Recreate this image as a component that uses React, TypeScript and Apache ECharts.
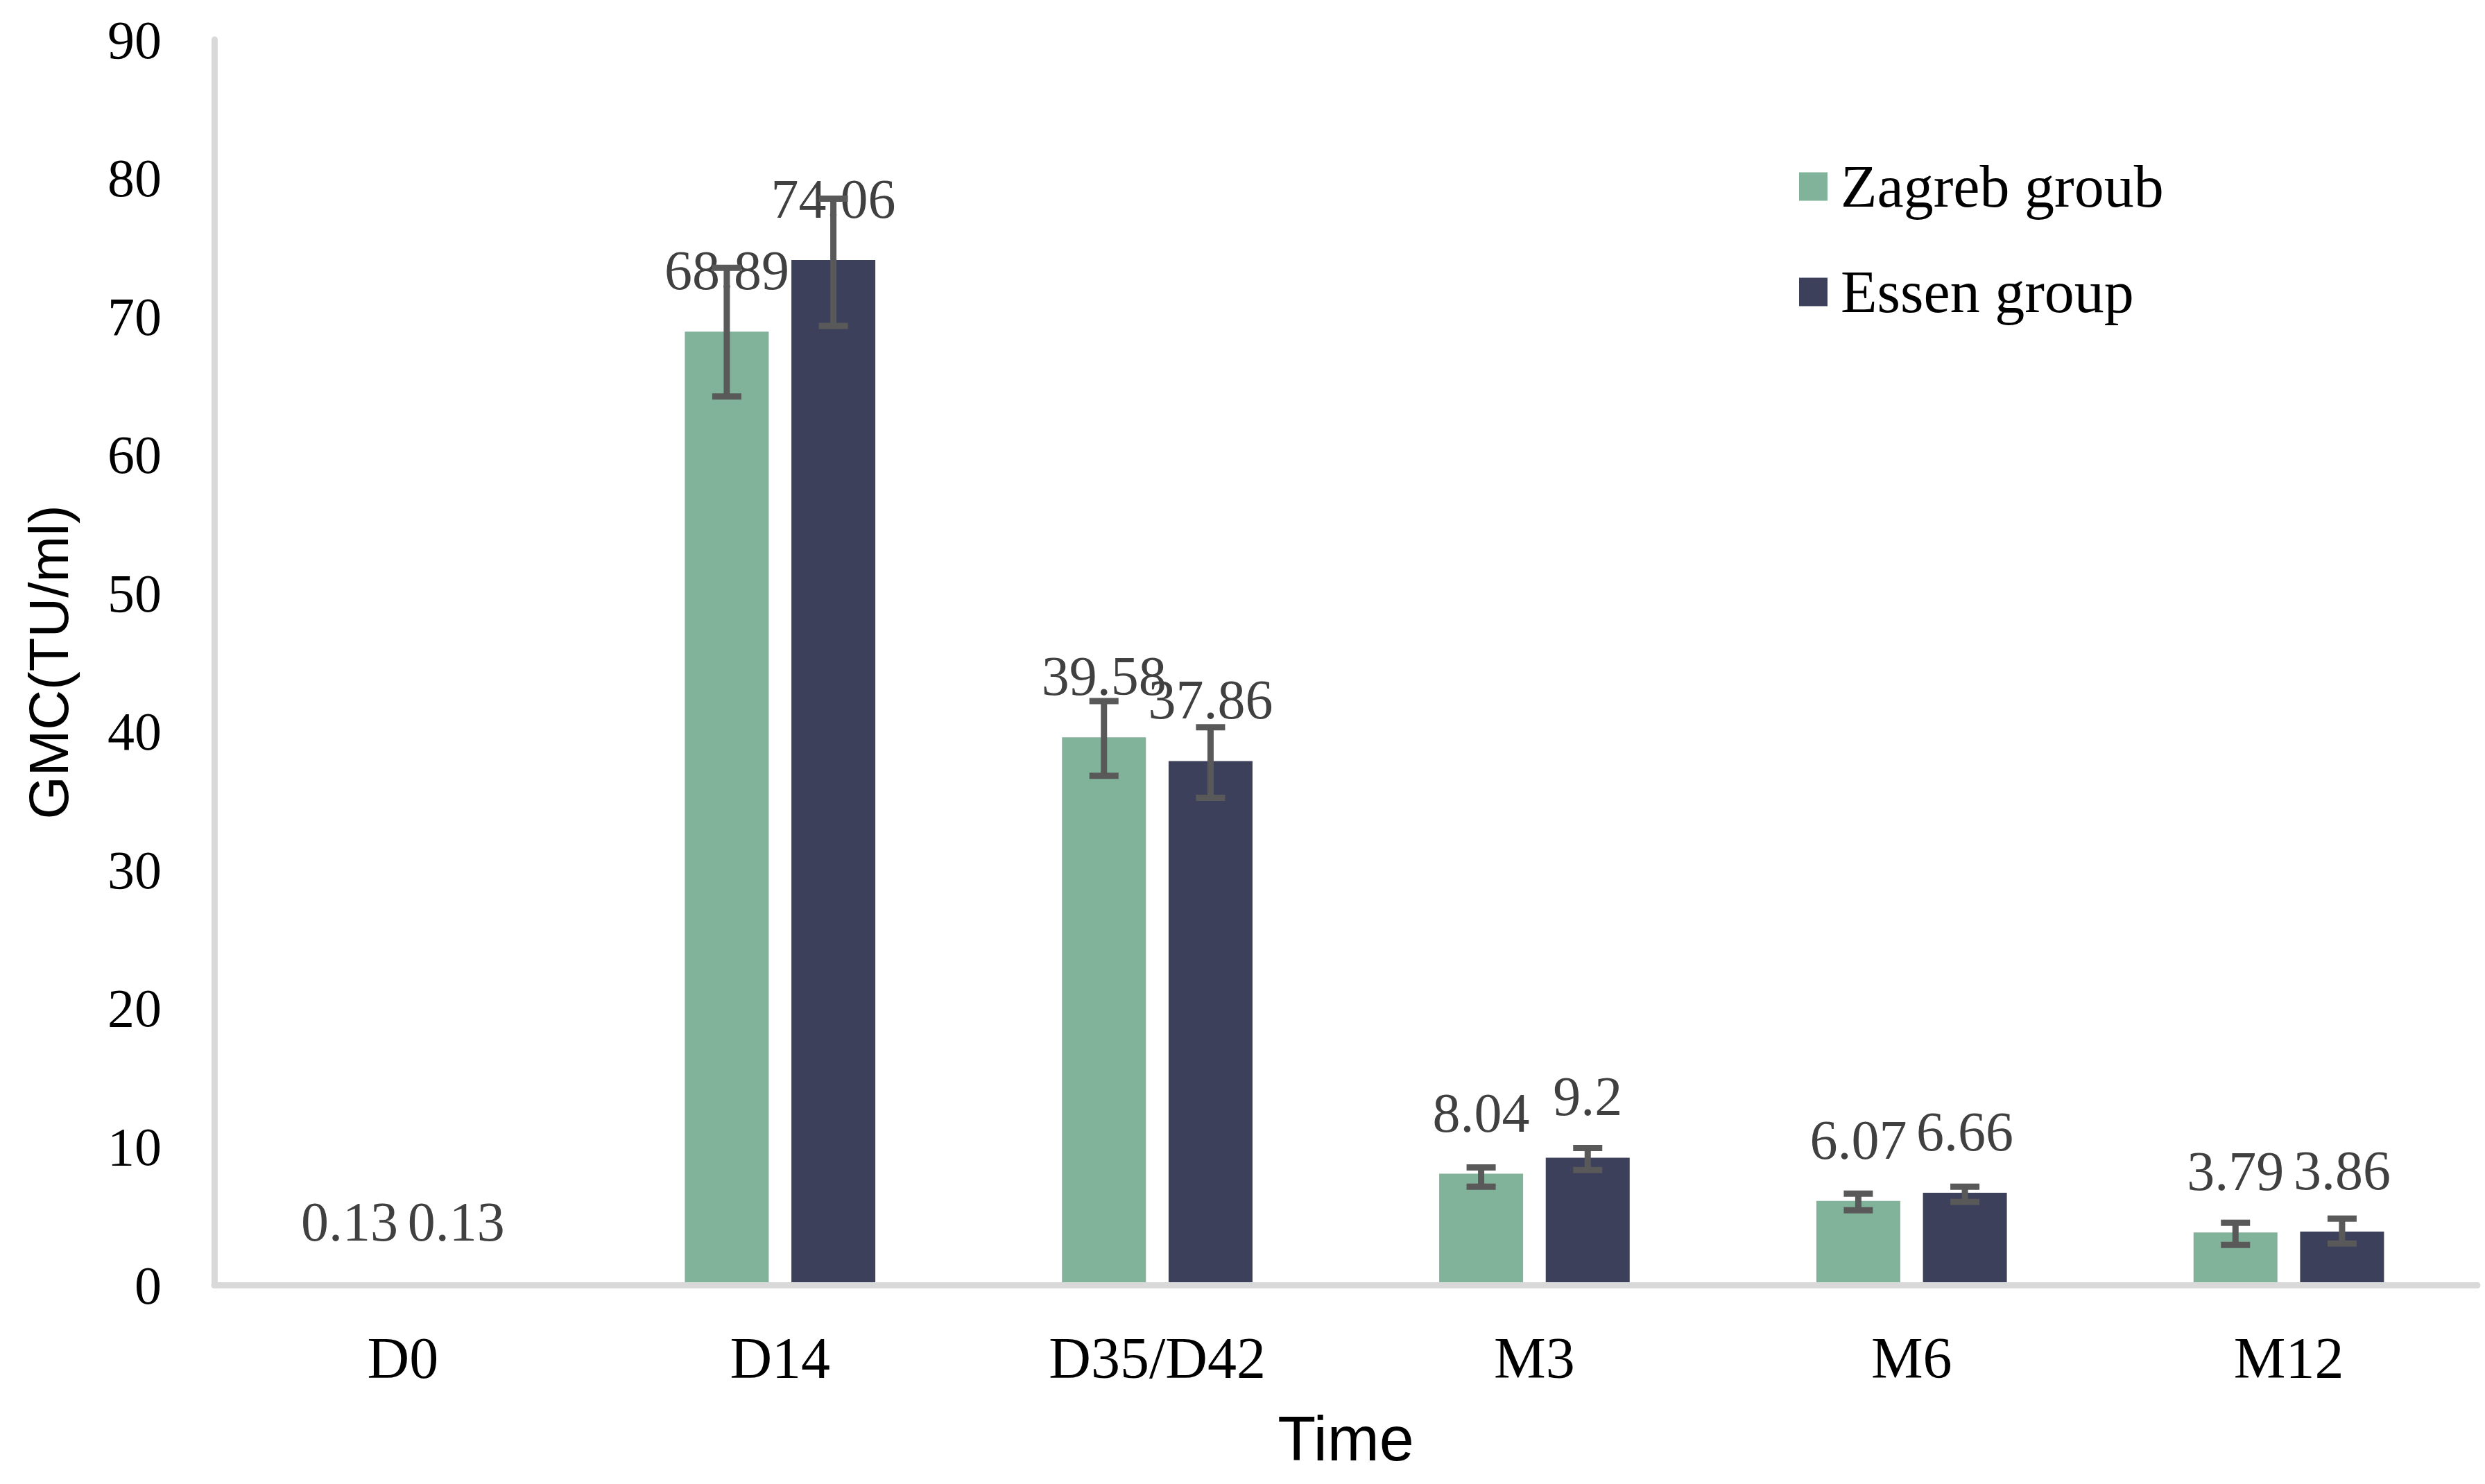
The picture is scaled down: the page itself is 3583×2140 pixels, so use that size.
import React, { useEffect, useRef } from "react";
import * as echarts from "echarts";

// ---- data ----
const categories = ["D0", "D14", "D35/D42", "M3", "M6", "M12"];
const seriesNames = ["Zagreb groub", "Essen group"];
const zagrebValues = [0.13, 68.89, 39.58, 8.04, 6.07, 3.79];
const essenValues = [0.13, 74.06, 37.86, 9.2, 6.66, 3.86];
const zagrebLow = [null, 64.2, 36.8, 7.1, 5.4, 2.9];
const zagrebHigh = [null, 73.5, 42.2, 8.5, 6.6, 4.5];
const essenLow = [null, 69.3, 35.2, 8.3, 6.0, 3.0];
const essenHigh = [null, 78.5, 40.3, 9.9, 7.1, 4.8];
const yMin = 0;
const yMax = 90;
const yInterval = 10;

// ---- style ----
const COLORS = ["#81B29A", "#3D405B"];
const BAR_W = 121;
const GAP = 0.27;
const SERIF = "'Liberation Serif', 'Times New Roman', serif";
const SANS = "'Liberation Sans', Arial, sans-serif";

function buildErrorData() {
  const out: any[] = [];
  const lows = [zagrebLow, essenLow];
  const highs = [zagrebHigh, essenHigh];
  for (let s = 0; s < 2; s++) {
    for (let i = 0; i < categories.length; i++) {
      const lo = lows[s][i];
      const hi = highs[s][i];
      if (lo == null || hi == null) continue;
      out.push([i, lo, hi, s]);
    }
  }
  return out;
}

export default function App() {
  const ref = useRef<HTMLDivElement>(null);

  useEffect(() => {
    if (!ref.current) return;
    const chart = echarts.init(ref.current, null, { renderer: "svg" });

    const labelStyle = {
      show: true,
      position: "top",
      distance: 48,
      color: "#404040",
      fontFamily: SERIF,
      fontSize: 80,
    };

    const option: any = {
      animation: false,
      backgroundColor: "#ffffff",
      grid: { left: 309, right: 11, top: 57, bottom: 287, containLabel: false },
      legend: {
        data: seriesNames,
        orient: "vertical",
        left: 2589,
        top: 221,
        itemWidth: 41,
        itemHeight: 41,
        itemGap: 66,
        icon: "rect",
        textStyle: {
          fontFamily: SERIF,
          fontSize: 86,
          lineHeight: 86,
          color: "#000000",
          padding: [0, 0, 0, 14],
        },
      },
      xAxis: {
        type: "category",
        data: categories,
        z: 5,
        name: "Time",
        nameLocation: "middle",
        nameGap: 177,
        nameTextStyle: { fontFamily: SANS, fontSize: 90, color: "#000000" },
        axisLine: { show: true, lineStyle: { color: "#d9d9d9", width: 9 } },
        axisTick: { show: false },
        axisLabel: {
          margin: 63,
          fontFamily: SERIF,
          fontSize: 84,
          color: "#000000",
        },
        splitLine: { show: false },
      },
      yAxis: {
        type: "value",
        min: yMin,
        max: yMax,
        interval: yInterval,
        name: "GMC(TU/ml)",
        nameLocation: "middle",
        nameRotate: 90,
        nameGap: 199,
        nameTextStyle: { fontFamily: SANS, fontSize: 80, color: "#000000" },
        axisLine: { show: true, lineStyle: { color: "#d9d9d9", width: 9 } },
        axisTick: { show: false },
        axisLabel: {
          margin: 76,
          fontFamily: SERIF,
          fontSize: 78,
          color: "#000000",
        },
        splitLine: { show: false },
      },
      series: [
        {
          name: seriesNames[0],
          type: "bar",
          data: zagrebValues,
          barWidth: BAR_W,
          barGap: GAP * 100 + "%",
          itemStyle: { color: COLORS[0] },
          label: labelStyle,
          z: 2,
        },
        {
          name: seriesNames[1],
          type: "bar",
          data: essenValues,
          barWidth: BAR_W,
          barGap: GAP * 100 + "%",
          itemStyle: { color: COLORS[1] },
          label: labelStyle,
          z: 2,
        },
        {
          name: "error",
          type: "custom",
          z: 4,
          data: buildErrorData(),
          encode: { x: 0, y: [1, 2] },
          renderItem: (params: any, api: any) => {
            const idx = api.value(0);
            const lo = api.value(1);
            const hi = api.value(2);
            const s = api.value(3);
            const pLo = api.coord([idx, lo]);
            const pHi = api.coord([idx, hi]);
            const off = (s === 0 ? -1 : 1) * (BAR_W * (1 + GAP)) / 2;
            const x = pLo[0] + off;
            const half = 21;
            const style = { stroke: "#595959", lineWidth: 9, fill: null };
            return {
              type: "group",
              children: [
                { type: "line", shape: { x1: x, y1: pHi[1], x2: x, y2: pLo[1] }, style },
                { type: "line", shape: { x1: x - half, y1: pHi[1], x2: x + half, y2: pHi[1] }, style },
                { type: "line", shape: { x1: x - half, y1: pLo[1], x2: x + half, y2: pLo[1] }, style },
              ],
            };
          },
        },
      ],
    };

    chart.setOption(option);
    return () => {
      chart.dispose();
    };
  }, []);

  return (
    <div
      ref={ref}
      style={{
        position: "fixed",
        left: 0,
        top: 0,
        width: "3583px",
        height: "2140px",
        background: "#ffffff",
      }}
    />
  );
}
